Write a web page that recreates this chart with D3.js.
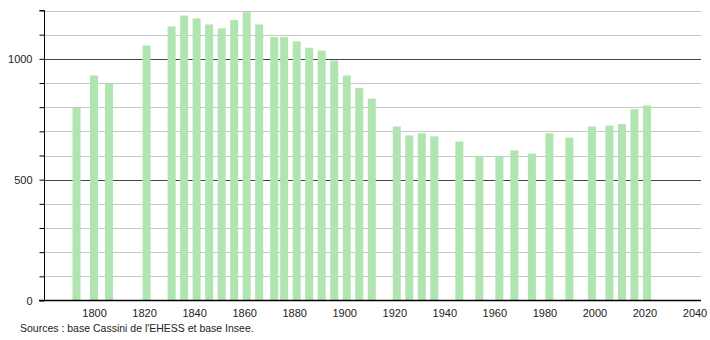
<!DOCTYPE html>
<html>
<head>
<meta charset="utf-8">
<script src="https://cdn.jsdelivr.net/npm/d3@7"></script>
<style>
  body { margin: 0; background: #fff; }
  svg text { font-family: "Liberation Sans", Arial, sans-serif; font-size: 11px; fill: #222; }
</style>
</head>
<body>
<svg width="710" height="340"></svg>
<script>
// population per census year
const years = [1793, 1800, 1806, 1821, 1831, 1836, 1841, 1846, 1851, 1856, 1861, 1866,
  1872, 1876, 1881, 1886, 1891, 1896, 1901, 1906, 1911, 1921, 1926, 1931, 1936,
  1946, 1954, 1962, 1968, 1975, 1982, 1990, 1999, 2006, 2011, 2016, 2021];
const population = [797, 931, 897, 1055, 1134, 1179, 1167, 1142, 1126, 1161, 1193, 1142,
  1090, 1090, 1072, 1046, 1034, 993, 931, 880, 835, 720, 683, 692, 679,
  658, 597, 597, 621, 608, 692, 674, 720, 724, 730, 792, 807];
const xTicks = [1800, 1820, 1840, 1860, 1880, 1900, 1920, 1940, 1960, 1980, 2000, 2020, 2040];
const yLabels = [0, 500, 1000];

const data = years.map((y, i) => ({ year: y, value: population[i] }));

const svg = d3.select("svg");
const plotLeft = 44, plotRight = 701, plotTop = 10.5, plotBottom = 300.5;

const x = d3.scaleLinear().domain([1780, 2042.6]).range([plotLeft, plotRight]);
const y = d3.scaleLinear().domain([0, 1200]).range([plotBottom, plotTop]);

// gridlines every 100, darker at 500 and 1000
const gridVals = d3.range(100, 1201, 100);
svg.append("g").selectAll("line")
  .data(gridVals)
  .enter().append("line")
  .attr("x1", plotLeft).attr("x2", plotRight)
  .attr("y1", d => Math.round(y(d)) + 0.5)
  .attr("y2", d => Math.round(y(d)) + 0.5)
  .attr("stroke", d => d % 500 === 0 ? "#444" : "#c8c8c8")
  .attr("stroke-width", 1);

// bars
const barW = 8;
svg.append("g").selectAll("rect")
  .data(data)
  .enter().append("rect")
  .attr("x", d => x(d.year) - barW / 2)
  .attr("y", d => y(d.value))
  .attr("width", barW)
  .attr("height", d => y(0) - y(d.value))
  .attr("fill", "#b0e4b0");

// y axis
const yAxis = d3.axisLeft(y)
  .tickValues(d3.range(0, 1201, 100))
  .tickSize(5)
  .tickFormat(d => yLabels.includes(d) ? d : "");
const gy = svg.append("g")
  .attr("transform", `translate(${plotLeft + 0.5},0)`)
  .call(yAxis);
gy.select(".domain").attr("stroke", "#000").attr("d", `M-5,${plotTop}H0V${plotBottom}`);
gy.selectAll(".tick line").attr("stroke", "#000");
gy.selectAll(".tick text").attr("x", -12).style("font-size", "11px");

// x axis
const xAxis = d3.axisBottom(x)
  .tickValues(xTicks)
  .tickSize(0)
  .tickPadding(9)
  .tickFormat(d3.format("d"));
const gx = svg.append("g")
  .attr("transform", `translate(0,${plotBottom})`)
  .call(xAxis);
gx.select(".domain").attr("stroke", "#000").attr("stroke-width", 1.5)
  .attr("d", `M${plotLeft - 5},0H${plotRight}`);
gx.selectAll(".tick text").style("font-size", "11px");

// source note
svg.append("text")
  .attr("x", 20)
  .attr("y", 332)
  .style("font-size", "10.5px")
  .text("Sources : base Cassini de l'EHESS et base Insee.");
</script>
</body>
</html>
